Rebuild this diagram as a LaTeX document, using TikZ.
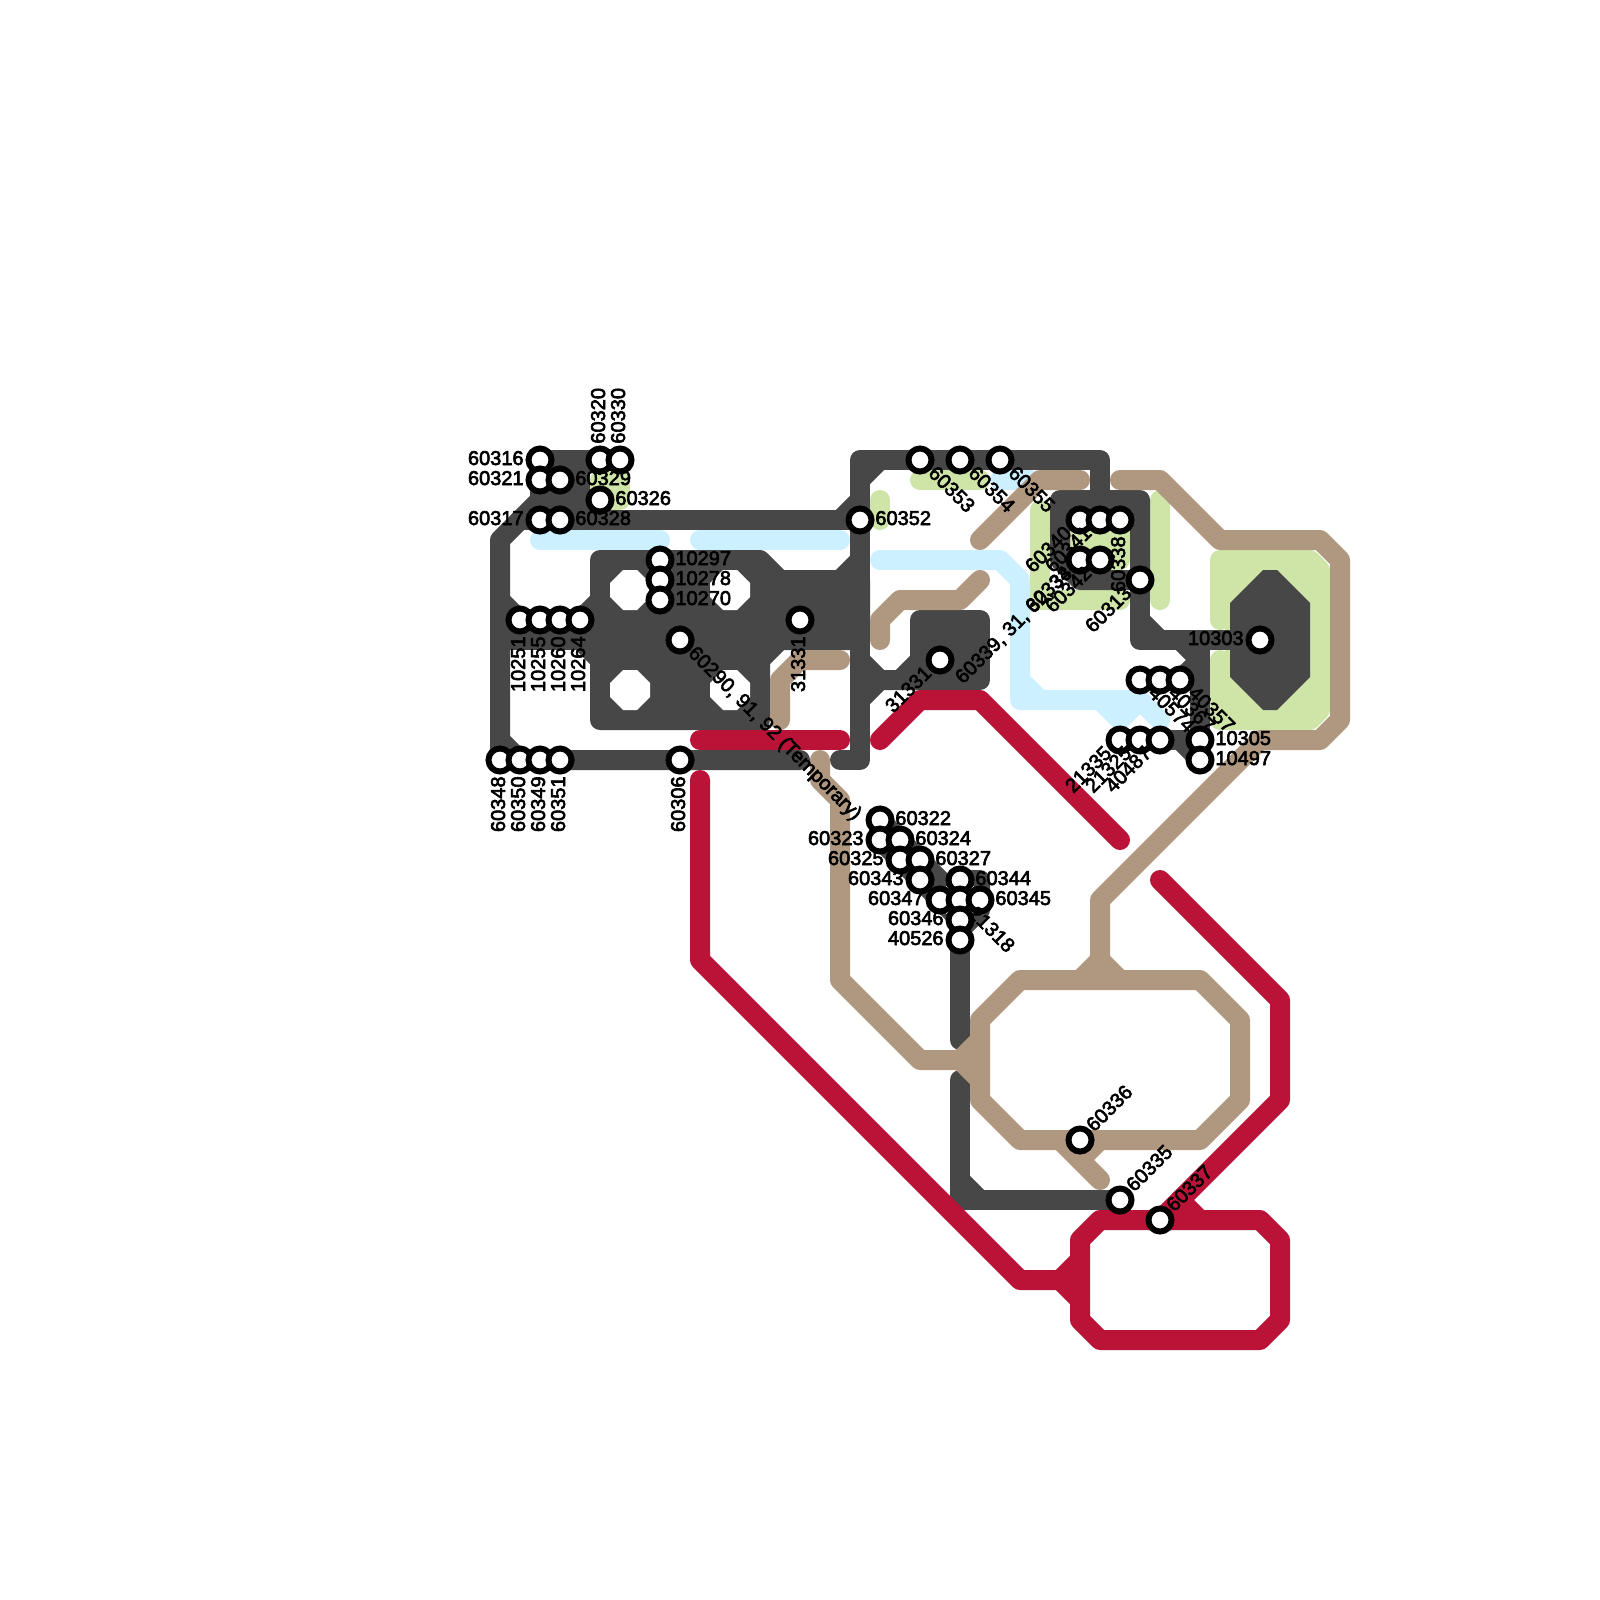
\documentclass[tikz,border=0pt]{standalone}
\usepackage{fontspec}
\setmainfont{Liberation Sans}
\newfontfamily\lblfont[FakeBold=3]{Liberation Sans}
\usepackage{xcolor}
\definecolor{cDark}{RGB}{71,71,71}
\definecolor{cTan}{RGB}{175,152,127}
\definecolor{cRed}{RGB}{187,18,56}
\definecolor{cBlue}{RGB}{204,240,255}
\definecolor{cGreen}{RGB}{207,228,167}
\tikzset{
	route/.style={line width=10pt, line cap=round, line join=round},
	lnDark/.style={route, draw=cDark},
	lnTan/.style={route, draw=cTan},
	lnRed/.style={route, draw=cRed},
	lnBlue/.style={route, draw=cBlue},
	lnGreen/.style={route, draw=cGreen},
	stn/.style={circle, draw=black, line width=3pt, fill=white, inner sep=0pt, minimum size=11.5pt},
	% station labels
	lbl/.style={inner sep=0pt, text=black, text height=7pt, text depth=0pt, font=\lblfont\fontsize{10}{12}\selectfont},
	lblR/.style={lbl, anchor=west, xshift=7.5pt, yshift=1pt},
	lblL/.style={lbl, anchor=east, xshift=-8pt, yshift=1pt},
	lblU/.style={lbl, rotate=90, anchor=west, xshift=8pt, yshift=1pt},
	lblD/.style={lbl, rotate=90, anchor=east, xshift=-8pt, yshift=1pt},
	lblDR/.style={lbl, rotate=-45, anchor=west, xshift=7.5pt, yshift=1pt},
	lblUR/.style={lbl, rotate=45, anchor=west, xshift=7.5pt, yshift=1pt},
	lblDL/.style={lbl, rotate=45, anchor=east, xshift=-7.5pt, yshift=1pt},
}
\begin{document}
\begin{tikzpicture}[x=0.5pt, y=-0.5pt]
	\useasboundingbox (0,0) rectangle (1600,1600);
	% green
	\draw[lnGreen, fill=cGreen] (600,480) -- (620,480) -- (620,500) -- (600,500) -- cycle;
	\draw[lnGreen] (880,500) -- (880,520);
	\draw[lnGreen] (920,480) -- (980,480);
	\draw[lnGreen] (1040,510) -- (1040,600) -- (1120,600);
	\draw[lnGreen, fill=cGreen] (1080,520) -- (1120,520) -- (1120,560) -- (1080,560) -- cycle;
	\draw[lnGreen] (1160,500) -- (1160,600);
	\fill[cGreen] (1225,565) rectangle (1315,715);
	\draw[lnGreen] (1220,620) -- (1220,560) -- (1310,560) -- (1320,570) -- (1320,710) -- (1310,720) -- (1220,720) -- (1220,660);
	% blue
	\draw[lnBlue] (540,540) -- (660,540);
	\draw[lnBlue] (700,540) -- (840,540);
	\draw[lnBlue] (1000,480) -- (1030,480);
	\draw[lnBlue] (880,560) -- (1000,560) -- (1020,580) -- (1020,700) -- (1140,700) -- (1160,720);
	\draw[lnBlue] (1020,680) -- (1040,700);
	\draw[lnBlue] (1100,700) -- (1120,720) -- (1140,700);
	% dark
	\draw[lnDark] (620,460) -- (580,460);
	\draw[lnDark, fill=cDark] (540,460) -- (580,460) -- (580,500) -- (540,500) -- cycle;
	\draw[lnDark] (540,500) -- (500,540) -- (500,760) -- (800,760);
	\draw[lnDark] (520,520) -- (860,520);
	\draw[lnDark] (580,500) -- (580,520);
	\draw[lnDark] (500,600) -- (520,620) -- (600,620);
	\draw[lnDark] (600,600) -- (580,620);
	\draw[lnDark] (500,640) -- (600,640);
	\draw[lnDark] (580,640) -- (600,660);
	\draw[lnDark] (500,740) -- (520,760);
	\draw[lnDark, fill=cDark] (600,560) -- (760,560) -- (780,580) -- (860,580) -- (860,640) -- (780,640) -- (760,660) -- (760,720) -- (600,720) -- cycle;
	\foreach \hx/\hy in {630/590, 730/590, 630/690, 730/690} {
		\fill[white] ({\hx-20},{\hy-7}) -- ({\hx-7},{\hy-20}) -- ({\hx+7},{\hy-20}) -- ({\hx+20},{\hy-7}) -- ({\hx+20},{\hy+7}) -- ({\hx+7},{\hy+20}) -- ({\hx-7},{\hy+20}) -- ({\hx-20},{\hy+7}) -- cycle;
	}
	\draw[lnDark] (840,760) -- (860,760) -- (860,460) -- (1100,460) -- (1100,500);
	\draw[lnDark] (860,480) -- (880,460);
	\draw[lnDark] (860,500) -- (840,520);
	\draw[lnDark] (860,560) -- (840,580);
	\draw[lnDark] (860,660) -- (880,680) -- (920,680);
	\draw[lnDark] (860,700) -- (880,680);
	\draw[lnDark] (900,680) -- (920,660);
	\draw[lnDark, fill=cDark] (920,620) -- (980,620) -- (980,680) -- (920,680) -- cycle;
	\draw[lnDark] (1060,500) -- (1140,500) -- (1140,580) -- (1080,580) -- (1060,560) -- cycle;
	\draw[lnDark] (1140,580) -- (1140,640) -- (1260,640);
	\draw[lnDark] (1140,620) -- (1160,640);
	\draw[lnDark] (1180,640) -- (1200,660) -- (1180,680) -- (1140,680);
	\draw[lnDark] (1200,640) -- (1200,760);
	\draw[lnDark] (1120,740) -- (1200,740);
	\draw[lnDark] (1180,740) -- (1200,760);
	\fill[cDark] (1230,603) -- (1263,570) -- (1277,570) -- (1310,603) -- (1310,677) -- (1277,710) -- (1263,710) -- (1230,677) -- cycle;
	% cluster
	\draw[lnDark] (880,820) -- (960,900);
	\draw[lnDark] (880,840) -- (960,920);
	\draw[lnDark, fill=cDark] (960,880) -- (980,880) -- (980,910) -- (960,930) -- cycle;
	\fill[cGreen] (946,886) rectangle (974,914);
	\draw[lnDark] (960,940) -- (960,1040);
	\draw[lnDark] (960,1080) -- (960,1200) -- (1120,1200);
	\draw[lnDark] (960,1180) -- (980,1200);
	% tan
	\draw[lnTan] (1080,480) -- (1040,480) -- (980,540);
	\draw[lnTan] (1120,480) -- (1160,480) -- (1220,540) -- (1320,540) -- (1340,560) -- (1340,720) -- (1320,740) -- (1260,740) -- (1100,900) -- (1100,960) -- (1080,980);
	\draw[lnTan] (1100,960) -- (1120,980);
	\draw[lnTan] (880,640) -- (880,620) -- (900,600) -- (960,600) -- (980,580);
	\draw[lnTan] (840,660) -- (800,660) -- (780,680) -- (780,720);
	\draw[lnTan] (820,760) -- (820,780) -- (840,800) -- (840,980) -- (920,1060) -- (960,1060) -- (980,1040);
	\draw[lnTan] (960,1060) -- (980,1080);
	\draw[lnTan] (1020,980) -- (1200,980) -- (1240,1020) -- (1240,1100) -- (1200,1140) -- (1020,1140) -- (980,1100) -- (980,1020) -- cycle;
	\draw[lnTan] (1060,1140) -- (1100,1180);
	\draw[lnTan] (1100,1140) -- (1080,1160);
	% red
	\draw[lnRed] (700,740) -- (840,740);
	\draw[lnRed] (880,740) -- (920,700) -- (980,700) -- (1120,840);
	\draw[lnRed] (700,780) -- (700,960) -- (1020,1280) -- (1060,1280) -- (1080,1260);
	\draw[lnRed] (1060,1280) -- (1080,1300);
	\draw[lnRed] (1100,1220) -- (1260,1220) -- (1280,1240) -- (1280,1320) -- (1260,1340) -- (1100,1340) -- (1080,1320) -- (1080,1240) -- cycle;
	\draw[lnRed] (1160,880) -- (1280,1000) -- (1280,1100) -- (1160,1220);
	\draw[lnRed] (1180,1200) -- (1200,1220);
	% stations
	\foreach \id/\xx/\yy in {60316/540/460, 60321/540/480, 60329/560/480, 60326/600/500, 60317/540/520, 60328/560/520, 60320/600/460, 60330/620/460, 10297/660/560, 10278/660/580, 10270/660/600, 10251/520/620, 10255/540/620, 10260/560/620, 10264/580/620, 60290/680/640, 31331/800/620, 60348/500/760, 60350/520/760, 60349/540/760, 60351/560/760, 60306/680/760, 60352/860/520, 60353/920/460, 60354/960/460, 60355/1000/460, 60339/940/660, 60340/1080/520, 60341/1100/520, 60338/1120/520, 60334/1080/560, 60342/1100/560, 60313/1140/580, 10303/1260/640, 40574/1140/680, 40367/1160/680, 40357/1180/680, 21335/1120/740, 21325/1140/740, 40487/1160/740, 10305/1200/740, 10497/1200/760, 60322/880/820, 60323/880/840, 60324/900/840, 60325/900/860, 60327/920/860, 60343/920/880, 60344/960/880, 60347/940/900, 21318/960/900, 60345/980/900, 60346/960/920, 40526/960/940, 60336/1080/1140, 60335/1120/1200, 60337/1160/1220} {
		\node[stn] (s\id) at (\xx,\yy) {};
	}
	% labels
	\foreach \id/\sty in {60316/lblL, 60321/lblL, 60317/lblL, 60329/lblR, 60326/lblR, 60328/lblR, 60320/lblU, 60330/lblU, 10297/lblR, 10278/lblR, 10270/lblR, 10251/lblD, 10255/lblD, 10260/lblD, 10264/lblD, 31331/lblD, 60348/lblD, 60350/lblD, 60349/lblD, 60351/lblD, 60306/lblD, 60352/lblR, 60353/lblDR, 60354/lblDR, 60355/lblDR, 60340/lblDL, 60341/lblDL, 60338/lblD, 60334/lblDL, 60342/lblDL, 60313/lblDL, 10303/lblL, 40574/lblDR, 40367/lblDR, 40357/lblDR, 21335/lblDL, 21325/lblDL, 40487/lblDL, 10305/lblR, 10497/lblR, 60322/lblR, 60323/lblL, 60324/lblR, 60325/lblL, 60327/lblR, 60343/lblL, 60344/lblR, 60347/lblL, 21318/lblDR, 60345/lblR, 60346/lblL, 40526/lblL, 60336/lblUR, 60335/lblUR, 60337/lblUR} {
		\node[\sty] (t\id) at (s\id) {\id};
	}
	\node[lblDR] (t60290) at (s60290) {60290, 91, 92 (Temporary)};
	\node[lbl, rotate=45, anchor=west] (t60339) at (958,680) {60339, 31, 32, 33};
	\node[lblDL] (t31331b) at (s60339) {31331};
\end{tikzpicture}
\end{document}
